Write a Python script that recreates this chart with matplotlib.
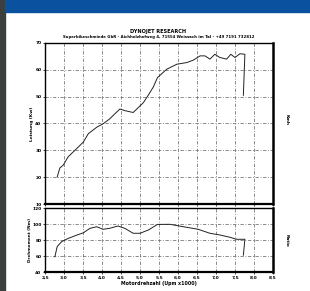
import matplotlib
matplotlib.use("Agg")
import matplotlib.pyplot as plt
from matplotlib.patches import Rectangle

# ---- data ----
power_rpm = [2.82, 2.89, 2.98, 3.11, 3.33, 3.51, 3.64, 3.86, 4.03, 4.20, 4.33, 4.47, 4.60, 4.82,
             4.96, 5.09, 5.22, 5.35, 5.46, 5.70, 5.97, 6.23, 6.40, 6.58, 6.71, 6.84, 6.97, 7.10,
             7.28, 7.39, 7.50, 7.63, 7.76, 7.72]
power_kw = [20.0, 23.4, 24.5, 27.6, 30.6, 33.1, 36.2, 38.6, 39.9, 41.7, 43.5, 45.4, 44.8, 44.1,
            46.0, 47.8, 50.6, 53.6, 57.1, 60.2, 62.1, 62.7, 63.6, 65.2, 65.2, 64.0, 65.8, 64.6,
            64.0, 65.8, 64.6, 66.0, 65.8, 50.5]

torque_rpm = [2.76, 2.82, 2.94, 3.11, 3.33, 3.51, 3.68, 3.86, 4.03, 4.20, 4.42, 4.60, 4.82, 5.00,
              5.22, 5.46, 5.79, 6.14, 6.53, 6.84, 7.10, 7.37, 7.54, 7.76, 7.72]
torque_nm = [59.0, 71.7, 78.0, 82.0, 86.0, 89.0, 94.5, 96.6, 93.4, 94.6, 97.5, 94.6, 88.4, 88.4,
             92.5, 99.5, 99.6, 96.6, 93.4, 88.4, 86.3, 83.4, 80.9, 80.9, 61.0]

x_ticks = [2.5, 3.0, 3.5, 4.0, 4.5, 5.0, 5.5, 6.0, 6.5, 7.0, 7.5, 8.0, 8.5]
x_tick_labels = ["2,5", "3,0", "3,5", "4,0", "4,5", "5,0", "5,5", "6,0", "6,5", "7,0", "7,5", "8,0", "8,5"]
power_ticks = [10, 20, 30, 40, 50, 60, 70]
torque_ticks = [40, 60, 80, 100, 120]

title = "DYNOJET RESEARCH"
subtitle = "Superbikeschmiede GbR - Aichholzhofweg 4, 71554 Weissach im Tal - +49 7191 732812"

W, H = 310, 291
fig = plt.figure(figsize=(W / 100, H / 100), dpi=100)
fig.patch.set_facecolor("white")

def fx(px):
    return px / W

def fy(py):
    return 1 - py / H

# background: dark strip on left, blue band on top
fig.add_artist(Rectangle((0, 0), fx(5), 1, transform=fig.transFigure, color="#3b3f3d", zorder=0))
fig.add_artist(Rectangle((fx(5), fy(12)), 1, 12 / H, transform=fig.transFigure, color="#0a51a0", zorder=0))

ax1 = fig.add_axes([fx(45), fy(204), fx(228), 161 / H])
ax2 = fig.add_axes([fx(45), fy(272), fx(228), 64 / H])

grid_kw = dict(color="#777777", linestyle=(0, (4, 2, 1, 2)), linewidth=0.6)
for ax in (ax1, ax2):
    ax.set_xlim(2.5, 8.5)
    ax.set_xticks(x_ticks)
    ax.grid(True, **grid_kw)
    for s in ax.spines.values():
        s.set_linewidth(1.0)
        s.set_color("black")
    ax.spines["right"].set_linewidth(1.8)
    ax.spines["bottom"].set_linewidth(1.6)
    ax.tick_params(axis="both", length=1.5, width=0.5, pad=1, labelsize=3.2)

ax1.set_ylim(10, 70)
ax1.set_yticks(power_ticks)
ax1.set_yticklabels([str(v) for v in power_ticks], fontsize=3.2, fontweight="bold")
ax1.set_xticklabels([])
ax1.plot(power_rpm, power_kw, color="#222222", linewidth=0.7)

ax2.set_ylim(40, 120)
ax2.set_yticks(torque_ticks)
ax2.set_yticklabels([str(v) for v in torque_ticks], fontsize=3.2, fontweight="bold")
ax2.set_xticklabels(x_tick_labels, fontsize=3.2, fontweight="bold")
ax2.plot(torque_rpm, torque_nm, color="#222222", linewidth=0.7)

fig.text(fx(158), fy(31), title, ha="center", va="center", fontsize=3.6, fontweight="bold")
fig.text(fx(159), fy(37), subtitle, ha="center", va="center", fontsize=2.8, fontweight="bold")
fig.text(fx(32), fy(124), "Leistung (Kw)", ha="center", va="center", rotation=90, fontsize=3.2, fontweight="bold")
fig.text(fx(30), fy(240), "Drehmoment (Nm)", ha="center", va="center", rotation=90, fontsize=3.0, fontweight="bold")
fig.text(fx(287), fy(120), "Kmh", ha="center", va="center", rotation=-90, fontsize=3.2, fontweight="bold")
fig.text(fx(287), fy(240), "Ratio", ha="center", va="center", rotation=-90, fontsize=3.2, fontweight="bold")
fig.text(fx(159), fy(283), "Motordrehzahl (Upm x1000)", ha="center", va="center", fontsize=3.4, fontweight="bold")

fig.savefig("out.png", dpi=100)
